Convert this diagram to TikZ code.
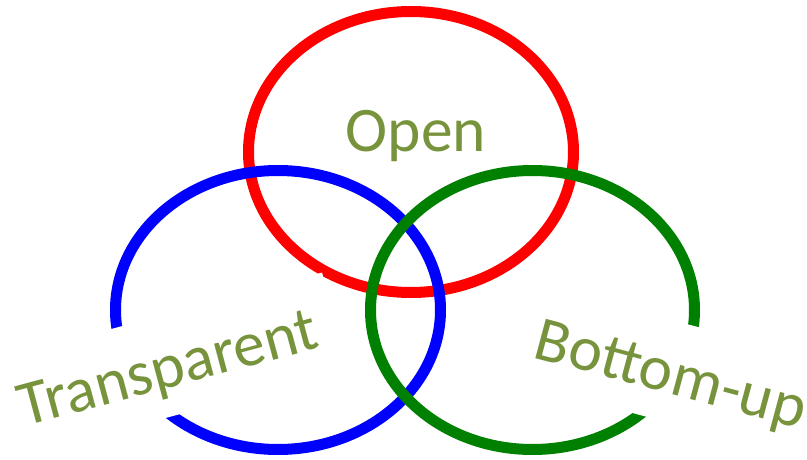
\documentclass[tikz,border=0pt]{standalone}
\usepackage{fontspec}
\setmainfont{Carlito}
\definecolor{wordgreen}{RGB}{119,147,60}
\definecolor{ringred}{RGB}{255,0,0}
\definecolor{ringblue}{RGB}{0,0,255}
\definecolor{ringgreen}{RGB}{0,128,0}
\begin{document}
\begin{tikzpicture}[x=1pt,y=-1pt,line join=round,line cap=round,line width=11pt,
	word/.style={font=\fontsize{63.5}{76}\selectfont,text=wordgreen,anchor=base,
		inner xsep=20pt,inner ysep=12pt,text height=60pt,text depth=16pt}]
	\useasboundingbox (0,0) rectangle (807,460);
	% three rings
	\draw[ringred]
	(411,152) ellipse ({162.5} and {140.5})
	;
	\draw[ringblue]
	(278,310) ellipse ({162.5} and {139.5})
	;
	\draw[ringgreen]
	(532.5,310) ellipse ({162} and {139.5})
	;
	% labels
	\node[word,fill=white,rotate=15] (transparent) at (173,387) {Transparent};
	\node[word,fill=white,rotate=-15] (bottomup) at (666,393) {Bottom-up};
	\node[word] (open) at (416,152) {Open};
\end{tikzpicture}
\end{document}
